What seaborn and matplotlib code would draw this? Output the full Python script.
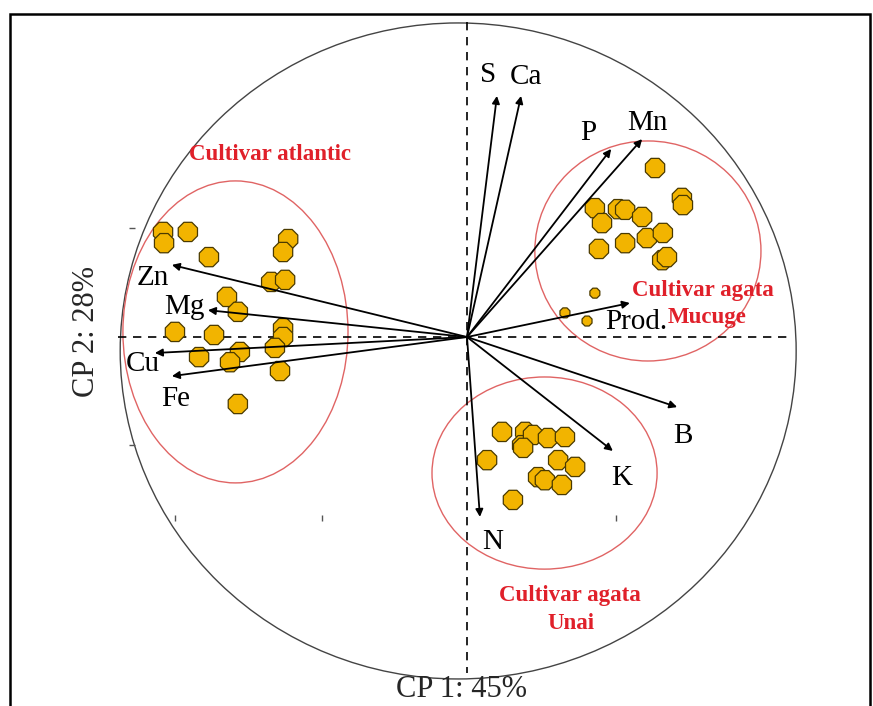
import numpy as np
import pandas as pd
import matplotlib
matplotlib.use("Agg")
import matplotlib.pyplot as plt
from matplotlib.patches import Ellipse, Rectangle
import seaborn as sns

# variable loadings (CP1, CP2)
variables = ["S", "Ca", "P", "Mn", "Prod.", "B", "K", "N", "Zn", "Mg", "Cu", "Fe"]
load_cp1 = [0.088, 0.159, 0.424, 0.515, 0.479, 0.618, 0.429, 0.038, -0.868, -0.762, -0.918, -0.868]
load_cp2 = [0.709, 0.709, 0.553, 0.582, 0.100, -0.206, -0.335, -0.529, 0.212, 0.079, -0.047, -0.115]

# sample scores per cultivar
atlantic_cp1 = [-0.894, -0.891, -0.821, -0.759, -0.526, -0.541, -0.576, -0.535, -0.706, -0.674,
                -0.859, -0.744, -0.541, -0.541, -0.565, -0.788, -0.668, -0.697, -0.550, -0.674]
atlantic_cp2 = [0.309, 0.276, 0.309, 0.235, 0.288, 0.250, 0.162, 0.168, 0.118, 0.074,
                0.015, 0.006, 0.026, 0.000, -0.032, -0.059, -0.044, -0.074, -0.100, -0.197]
mucuge_cp1 = [0.553, 0.632, 0.635, 0.376, 0.397, 0.444, 0.465, 0.515, 0.388, 0.465,
              0.529, 0.576, 0.574, 0.588, 0.376, 0.288, 0.353]
mucuge_cp2 = [0.497, 0.409, 0.388, 0.379, 0.335, 0.376, 0.374, 0.353, 0.259, 0.276,
              0.291, 0.306, 0.226, 0.235, 0.129, 0.071, 0.047]
mucuge_size = ["big"] * 14 + ["small"] * 3
unai_cp1 = [0.103, 0.171, 0.162, 0.194, 0.238, 0.288, 0.059, 0.268, 0.318, 0.209,
            0.229, 0.279, 0.135, 0.165]
unai_cp2 = [-0.279, -0.279, -0.318, -0.288, -0.297, -0.294, -0.362, -0.362, -0.382, -0.412,
            -0.421, -0.435, -0.479, -0.326]

# group ellipses: name lines, centre, width, height
groups = [["Cultivar atlantic"], ["Cultivar agata", "Mucuge"], ["Cultivar agata", "Unai"]]
group_cx = [-0.681, 0.532, 0.228]
group_cy = [0.015, 0.253, -0.400]
group_w = [0.662, 0.665, 0.662]
group_h = [0.888, 0.647, 0.565]

axis_labels = ["CP 1: 45%", "CP 2: 28%"]

scores = pd.DataFrame({
    "cp1": atlantic_cp1 + mucuge_cp1 + unai_cp1,
    "cp2": atlantic_cp2 + mucuge_cp2 + unai_cp2,
    "size": ["big"] * len(atlantic_cp1) + mucuge_size + ["big"] * len(unai_cp1),
})

sns.set_style("white")
plt.rcParams["font.family"] = ["Liberation Serif", "DejaVu Serif"]

fig = plt.figure(figsize=(8.73, 7.06), dpi=100)
ax = fig.add_axes([0, 0, 1, 1])
ax.set_xlim(-1.3735, 1.194)
ax.set_ylim(-1.085, 0.991)
ax.axis("off")

# outer frame
fig.patches.append(Rectangle((0.0115, -0.02), 0.985, 1.0, transform=fig.transFigure,
                             fill=False, edgecolor="black", linewidth=1.8))

# correlation circle
ax.add_patch(Ellipse((-0.026, -0.041), 1.988, 1.929, fill=False, edgecolor="#444444", linewidth=1.0))

# dashed axes
ax.plot([-1.026, 0.959], [0, 0], ls=(0, (5, 4)), color="black", lw=1.2)
ax.plot([0, 0], [0.926, -0.988], ls=(0, (5, 4)), color="black", lw=1.2)

# leftover tick marks
ax.plot([-0.859, -0.426, 0.438], [-0.532] * 3, ls="none", marker="|", ms=5, color="#555555", mew=1)
ax.plot([-0.985, -0.985], [0.321, -0.318], ls="none", marker="_", ms=5, color="#555555", mew=1)

# group ellipses
for cx, cy, w, h in zip(group_cx, group_cy, group_w, group_h):
    ax.add_patch(Ellipse((cx, cy), w, h, fill=False, edgecolor="#e06464", linewidth=1.0))

# sample points
sns.scatterplot(data=scores, x="cp1", y="cp2", size="size", sizes={"big": 225, "small": 60},
                marker="8", color="#f2b400", edgecolor="#4a3a00", linewidth=0.9,
                legend=False, ax=ax, zorder=3)

# loading arrows
for name, x, y in zip(variables, load_cp1, load_cp2):
    ax.annotate("", xy=(x, y), xytext=(0, 0),
                arrowprops=dict(arrowstyle="-|>", color="black", lw=1.3,
                                mutation_scale=11, shrinkA=0, shrinkB=0), zorder=4)

label_offset = {
    "S": (-0.026, 0.062), "Ca": (0.015, 0.056), "P": (-0.068, 0.047), "Mn": (0.017, 0.047),
    "Prod.": (0.018, -0.056), "B": (0.017, -0.085), "K": (0.027, -0.080), "N": (0.038, -0.074),
    "Zn": (-0.056, -0.038), "Mg": (-0.070, 0.009), "Cu": (-0.035, -0.032), "Fe": (0.012, -0.067),
}
for name, x, y in zip(variables, load_cp1, load_cp2):
    dx, dy = label_offset[name]
    ax.text(x + dx, y + dy, name, fontsize=21, ha="center", va="center", color="black", zorder=5)

# group names, one text per line
group_label_pos = [[(-0.578, 0.538)],
                   [(0.694, 0.138), (0.706, 0.056)],
                   [(0.303, -0.761), (0.306, -0.841)]]
for lines, positions in zip(groups, group_label_pos):
    for line, (gx, gy) in zip(lines, positions):
        ax.text(gx, gy, line, fontsize=16.5, fontweight="bold", color="#e0202a",
                ha="center", va="center", zorder=5)

# axis titles
ax.text(-0.015, -1.036, axis_labels[0], fontsize=22, ha="center", va="center")
ax.text(-1.118, 0.015, axis_labels[1], fontsize=22, ha="center", va="center", rotation=90)

fig.savefig("out.png", dpi=100)
